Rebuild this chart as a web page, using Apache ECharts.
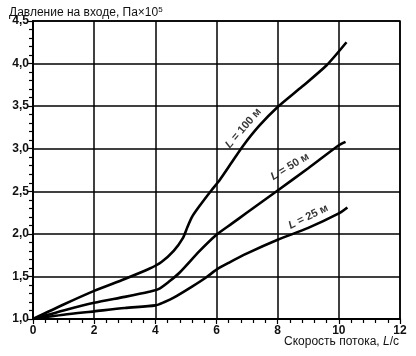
<!DOCTYPE html>
<html>
<head>
<meta charset="utf-8">
<script src="https://cdn.jsdelivr.net/npm/echarts@6/dist/echarts.min.js"></script>
<style>
html,body{margin:0;padding:0;background:#fff;}
#chart{width:416px;height:356px;}
</style>
</head>
<body>
<div id="chart"></div>
<script>
// Data
const x100 = [0, 1, 2, 3, 3.8, 4.2, 4.6, 4.9, 5.05, 5.2, 5.45, 5.83, 6.1, 6.5, 6.86, 7.4, 8.0, 8.8, 9.6, 10.25];
const y100 = [1.0, 1.17, 1.33, 1.47, 1.59, 1.67, 1.8, 1.95, 2.08, 2.2, 2.33, 2.51, 2.63, 2.84, 3.03, 3.27, 3.49, 3.73, 3.98, 4.25];
const x50 = [0, 1, 2, 3, 3.8, 4.1, 4.45, 4.78, 5.45, 6.0, 6.5, 7.0, 8.0, 9.0, 10.0, 10.22];
const y50 = [1.0, 1.1, 1.19, 1.26, 1.32, 1.35, 1.44, 1.54, 1.8, 1.99, 2.12, 2.25, 2.51, 2.77, 3.04, 3.08];
const x25 = [0, 1, 2, 3, 4.0, 4.3, 4.6, 5.2, 5.67, 6.0, 6.4, 7.0, 8.0, 9.0, 10.0, 10.28];
const y25 = [1.0, 1.05, 1.09, 1.13, 1.16, 1.2, 1.25, 1.38, 1.49, 1.58, 1.66, 1.77, 1.93, 2.07, 2.24, 2.31];
const curveNames = ['100', '50', '25'];
const labelX = [6.88, 8.4, 9.0];
const labelY = [3.24, 2.79, 2.2];
const yTitle = 'Давление на входе, Па×10';
const xTitle = 'Скорость потока, ';

const zip = (xs, ys) => xs.map((v, i) => [v, ys[i]]);
const curves = [zip(x100, y100), zip(x50, y50), zip(x25, y25)];
const rotations = [49, 31, 26];
const FONT = '"Liberation Sans", Arial, sans-serif';

const chart = echarts.init(document.getElementById('chart'));
const lineSeries = curves.map((d, i) => ({
  type: 'line', data: d, smooth: 0.25, symbol: 'none',
  lineStyle: {color: '#000', width: 2.6}, z: 5
}));
const labelSeries = curves.map((d, i) => ({
  type: 'scatter', symbolSize: 0, silent: true, z: 6,
  data: [[labelX[i], labelY[i]]],
  label: {
    show: true, position: 'inside', rotate: rotations[i],
    formatter: () => '{i|L}{n| = ' + curveNames[i] + ' м}',
    rich: {
      i: {fontStyle: 'italic', fontWeight: 'bold', fontSize: 11, fontFamily: FONT, color: '#000'},
      n: {fontWeight: 'bold', fontSize: 11, fontFamily: FONT, color: '#000'}
    }
  }
}));

chart.setOption({
  animation: false,
  backgroundColor: '#fff',
  title: [
    {text: '{a|' + yTitle + '}{s|5}', left: 4, top: 1,
     textStyle: {fontWeight: 'normal', rich: {
       a: {fontSize: 12, fontFamily: FONT, color: '#111', fontWeight: 'normal'},
       s: {fontSize: 8, fontFamily: FONT, color: '#111', fontWeight: 'normal', verticalAlign: 'top', padding: [0,0,6,0]}
     }}},
    {text: '{a|' + xTitle + '}{i|L}{a|/с}', right: 12, bottom: 3,
     textStyle: {fontWeight: 'normal', rich: {
       a: {fontSize: 12, fontFamily: FONT, color: '#111', fontWeight: 'normal'},
       i: {fontSize: 12, fontFamily: FONT, color: '#111', fontWeight: 'normal', fontStyle: 'italic'}
     }}}
  ],
  grid: {left: 33, right: 16, top: 21, bottom: 37, show: true, borderColor: '#000', borderWidth: 1.5, containLabel: false},
  xAxis: {
    type: 'value', min: 0, max: 12, interval: 2,
    axisLine: {show: true, lineStyle: {color: '#000', width: 2}},
    axisTick: {show: true, length: 5, lineStyle: {color: '#000', width: 1.2}},
    minorTick: {show: true, splitNumber: 5, length: 4, lineStyle: {color: '#000', width: 1.2}},
    splitLine: {show: true, lineStyle: {color: '#000', width: 1.5}},
    axisLabel: {fontSize: 12, fontFamily: FONT, color: '#111', fontWeight: 'bold', margin: 6}
  },
  yAxis: {
    type: 'value', min: 1, max: 4.5, interval: 0.5,
    axisLine: {show: true, lineStyle: {color: '#000', width: 2}},
    axisTick: {show: true, length: 5, lineStyle: {color: '#000', width: 1.2}},
    minorTick: {show: true, splitNumber: 5, length: 4, lineStyle: {color: '#000', width: 1.2}},
    splitLine: {show: true, lineStyle: {color: '#000', width: 1.5}},
    axisLabel: {fontSize: 12, fontFamily: FONT, color: '#111', fontWeight: 'bold', margin: 4,
      formatter: v => v.toFixed(1).replace('.', ',')}
  },
  series: lineSeries.concat(labelSeries)
});
</script>
</body>
</html>
